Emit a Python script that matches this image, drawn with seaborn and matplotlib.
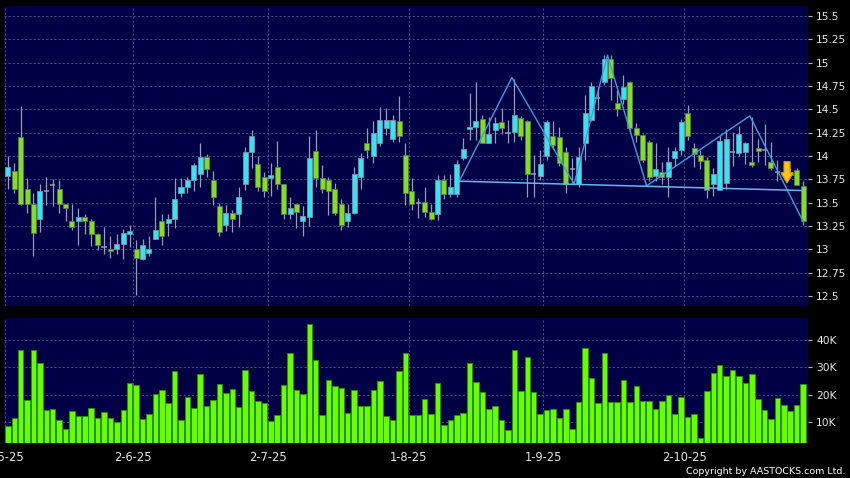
import numpy as np
import pandas as pd
import matplotlib
matplotlib.use("Agg")
import matplotlib.pyplot as plt
from matplotlib.patches import FancyArrow
from matplotlib.ticker import FuncFormatter
import seaborn as sns

# ==========================
# DATA
# ==========================
opens = [
    13.79, 13.84, 14.20, 13.65, 13.49, 13.32, 13.62, 13.69, 13.65, 13.49,
    13.30, 13.30, 13.35, 13.30, 13.16, 13.02, 13.00, 13.00, 13.06, 13.16,
    13.00, 12.90, 12.96, 13.11, 13.30, 13.28, 13.32, 13.60, 13.67, 13.74,
    13.81, 13.99, 13.74, 13.46, 13.26, 13.39, 13.38, 13.70, 14.04, 13.91,
    13.77, 13.76, 13.88, 13.70, 13.38, 13.49, 13.30, 13.35, 14.05, 13.76,
    13.74, 13.65, 13.49, 13.30, 13.39, 13.77, 14.14, 14.00, 14.14, 14.30,
    14.18, 14.37, 14.01, 13.62, 13.50, 13.51, 13.40, 13.38, 13.74, 13.59,
    13.59, 13.98, 14.29, 14.31, 14.40, 14.14, 14.28, 14.36, 14.25, 14.26,
    14.41, 14.37, 13.81, 13.79, 14.00, 14.21, 14.20, 14.04, 13.86, 13.70,
    14.14, 14.39, 14.62, 14.79, 15.04, 14.57, 14.61, 14.79, 14.30, 14.22,
    14.15, 13.79, 13.83, 13.78, 13.98, 14.06, 14.46, 14.09, 14.01, 13.96,
    13.70, 13.64, 13.71, 14.04, 14.03, 14.04, 13.94, 14.09, 14.06, 13.94,
    13.83, 13.83, 13.82, 13.85, 13.68,
]
closes = [
    13.88, 13.65, 13.49, 13.49, 13.18, 13.62, 13.62, 13.69, 13.49, 13.44,
    13.24, 13.35, 13.30, 13.16, 13.05, 13.02, 12.98, 13.06, 13.18, 13.20,
    12.91, 13.05, 13.00, 13.21, 13.14, 13.33, 13.54, 13.67, 13.74, 13.90,
    13.99, 13.86, 13.56, 13.19, 13.39, 13.33, 13.56, 14.04, 14.21, 13.67,
    13.62, 13.80, 13.70, 13.38, 13.44, 13.40, 13.36, 13.98, 13.76, 13.65,
    13.62, 13.39, 13.26, 13.39, 13.81, 13.98, 14.06, 14.25, 14.39, 14.39,
    14.39, 14.21, 13.60, 13.49, 13.50, 13.40, 13.33, 13.74, 13.59, 13.67,
    13.91, 14.08, 14.31, 14.38, 14.14, 14.24, 14.35, 14.30, 14.25, 14.44,
    14.21, 13.81, 13.81, 13.91, 14.36, 14.12, 13.92, 13.70, 13.86, 13.99,
    14.46, 14.75, 14.62, 15.04, 14.84, 14.50, 14.74, 14.30, 14.23, 13.96,
    13.78, 13.86, 13.78, 13.94, 14.05, 14.36, 14.21, 14.02, 13.95, 13.64,
    13.81, 14.16, 14.18, 14.04, 14.24, 14.14, 13.90, 14.05, 14.06, 13.87,
    13.83, 13.82, 13.80, 13.69, 13.30,
]
highs = [
    14.00, 13.92, 14.54, 13.76, 13.60, 13.70, 13.77, 13.75, 13.74, 13.49,
    13.49, 13.44, 13.38, 13.32, 13.18, 13.24, 13.14, 13.16, 13.22, 13.26,
    13.10, 13.11, 13.14, 13.56, 13.38, 13.38, 13.76, 13.76, 13.78, 13.93,
    14.14, 14.02, 13.84, 13.50, 13.48, 13.42, 13.67, 14.10, 14.28, 14.00,
    13.83, 13.92, 14.16, 13.70, 13.56, 13.49, 13.46, 14.21, 14.28, 13.90,
    13.78, 13.71, 13.54, 13.49, 13.88, 14.03, 14.30, 14.37, 14.53, 14.51,
    14.44, 14.64, 14.14, 13.76, 13.55, 13.67, 13.49, 13.80, 13.80, 13.81,
    13.96, 14.19, 14.67, 14.79, 14.44, 14.42, 14.42, 14.51, 14.39, 14.83,
    14.43, 14.39, 14.01, 14.06, 14.39, 14.37, 14.31, 14.10, 13.98, 14.10,
    14.65, 14.79, 14.74, 15.08, 15.08, 14.71, 14.87, 14.80, 14.35, 14.24,
    14.17, 14.14, 13.94, 14.10, 14.10, 14.40, 14.55, 14.14, 14.06, 13.99,
    13.87, 14.21, 14.29, 14.26, 14.32, 14.15, 14.42, 14.18, 14.34, 14.15,
    13.96, 13.90, 13.87, 13.87, 13.73,
]
lows = [
    13.65, 13.60, 13.47, 13.39, 12.93, 13.19, 13.47, 13.46, 13.39, 13.30,
    13.21, 13.05, 13.16, 13.04, 12.99, 12.95, 12.91, 12.95, 12.90, 13.03,
    12.51, 12.89, 12.93, 13.11, 13.05, 13.14, 13.23, 13.56, 13.60, 13.63,
    13.67, 13.77, 13.47, 13.14, 13.20, 13.19, 13.24, 13.64, 13.87, 13.62,
    13.56, 13.57, 13.65, 13.33, 13.32, 13.23, 13.14, 13.25, 13.67, 13.60,
    13.37, 13.37, 13.21, 13.24, 13.38, 13.65, 13.98, 13.92, 14.11, 14.23,
    14.15, 14.15, 13.48, 13.42, 13.34, 13.35, 13.31, 13.31, 13.54, 13.56,
    13.56, 13.96, 14.17, 14.17, 14.14, 14.14, 14.14, 14.24, 14.14, 14.15,
    14.17, 13.56, 13.56, 13.74, 13.96, 14.08, 13.89, 13.60, 13.71, 13.67,
    13.96, 14.37, 14.49, 14.76, 14.60, 14.43, 14.56, 14.26, 14.15, 13.94,
    13.73, 13.73, 13.70, 13.56, 13.89, 14.01, 14.17, 13.88, 13.86, 13.55,
    13.57, 13.64, 13.65, 13.89, 14.00, 13.91, 13.88, 13.94, 13.90, 13.85,
    13.73, 13.78, 13.76, 13.69, 13.26,
]
# volume in thousands
volume_k = [
    8.6, 11.4, 36.4, 18.0, 36.4, 31.5, 14.2, 14.7, 10.6, 7.3,
    14.0, 12.0, 12.0, 15.1, 11.4, 13.7, 11.5, 9.8, 14.3, 24.1,
    23.5, 11.1, 13.0, 20.1, 21.5, 16.8, 28.5, 10.6, 19.0, 15.1,
    27.5, 15.9, 17.9, 23.7, 20.4, 22.1, 15.6, 28.9, 21.4, 17.8,
    16.8, 10.4, 12.5, 23.5, 35.2, 21.5, 20.1, 45.9, 32.5, 12.5,
    25.3, 23.2, 22.3, 13.3, 21.6, 15.9, 15.9, 21.7, 25.1, 12.2,
    10.7, 28.5, 35.2, 12.6, 12.6, 18.5, 13.0, 24.1, 8.9, 10.7,
    12.5, 13.2, 31.4, 24.6, 20.9, 14.8, 15.8, 10.7, 7.0, 36.2,
    21.4, 33.8, 21.1, 13.0, 14.3, 14.8, 11.5, 14.7, 7.5, 17.4,
    37.0, 26.2, 16.9, 35.1, 17.2, 17.4, 25.3, 17.3, 23.3, 17.8,
    17.8, 14.8, 17.7, 20.0, 12.8, 19.1, 11.9, 12.8, 4.1, 21.4,
    28.0, 31.0, 26.7, 29.0, 26.8, 24.3, 27.4, 18.4, 14.4, 11.1,
    18.8, 16.0, 13.8, 16.2, 23.8,
]

# first trading day of each month (bar index)
month_idx = [-1, 19, 40, 62, 83, 105]
month_labels = ["2-5-25", "2-6-25", "2-7-25", "1-8-25", "1-9-25", "2-10-25"]

# head & shoulders pattern drawn on the chart
pattern_idx = [70.4, 78.6, 88.3, 93.5, 99.6, 115.7, 124.0]
pattern_px = [13.73, 14.84, 13.70, 15.08, 13.68, 14.43, 13.30]
neck_idx = [70.4, 124.0]
neck_px = [13.73, 13.63]

# breakdown arrow
arrow_idx = 121.5
arrow_top = 13.94
arrow_tip = 13.71

price_ticks = [12.5, 12.75, 13, 13.25, 13.5, 13.75, 14, 14.25, 14.5,
               14.75, 15, 15.25, 15.5]
vol_ticks = [10, 20, 30, 40]

n = len(closes)
assert len(opens) == len(highs) == len(lows) == len(volume_k) == n

df = pd.DataFrame({
    "day": np.arange(n),
    "open": opens, "high": highs, "low": lows, "close": closes,
    "vol": volume_k,
})

# ==========================
# STYLE
# ==========================
NAVY = "#000046"
GRID = "#5c5ca0"
CYAN = "#33e4f4"
GREEN = "#80e020"
WICK = "#9a9cb0"
TXT = "#e8e8e8"

sns.set_style("dark", {"axes.facecolor": NAVY, "figure.facecolor": "black"})
plt.rcParams["font.family"] = ["DejaVu Sans"]

fig = plt.figure(figsize=(8.5, 4.78), dpi=100, facecolor="black")
ax_p = fig.add_axes([4 / 850, 1 - 306 / 478, 804 / 850, 300 / 478])
ax_v = fig.add_axes([4 / 850, 1 - 443 / 478, 804 / 850, 125 / 478], sharex=ax_p)

# ==========================
# PRICE PANEL
# ==========================
up = df[df["close"] > df["open"]]
down = df[df["close"] < df["open"]]
flat = df[df["close"] == df["open"]]

ax_p.vlines(df["day"], df["low"], df["high"], color=WICK, lw=0.9, zorder=2)
ax_p.bar(up["day"], up["close"] - up["open"], bottom=up["open"], width=0.78,
         color=CYAN, edgecolor="#8090a0", linewidth=0.6, zorder=3)
ax_p.bar(down["day"], down["open"] - down["close"], bottom=down["close"],
         width=0.78, color=GREEN, edgecolor="#5c7a50", linewidth=0.6, zorder=3)
ax_p.hlines(flat["close"], flat["day"] - 0.4, flat["day"] + 0.4,
            color=WICK, lw=1.1, zorder=3)

sns.lineplot(x=pattern_idx, y=pattern_px, ax=ax_p, color="#3c9fe0",
             lw=1.0, sort=False, zorder=4)
sns.lineplot(x=neck_idx, y=neck_px, ax=ax_p, color="#62b8f0",
             lw=1.1, sort=False, zorder=4)

arrow = FancyArrow(arrow_idx, arrow_top, 0, arrow_tip - arrow_top,
                   width=0.95, head_width=1.9, head_length=0.11,
                   length_includes_head=True, facecolor="#ffc61a",
                   edgecolor="#e89400", linewidth=0.8, zorder=6)
ax_p.add_patch(arrow)

ax_p.set_ylim(12.393, 15.607)
ax_p.set_yticks(price_ticks)
ax_p.yaxis.set_major_formatter(FuncFormatter(lambda v, p: f"{v:g}"))

# ==========================
# VOLUME PANEL
# ==========================
sns.barplot(data=df, x="day", y="vol", native_scale=True, width=0.86,
            color="#66ff00", saturation=1, edgecolor="#2f8a00",
            linewidth=0.7, errorbar=None, ax=ax_v, zorder=3)
ax_v.set_ylim(2.2, 48.1)
ax_v.set_yticks(vol_ticks)
ax_v.yaxis.set_major_formatter(FuncFormatter(lambda v, p: f"{v:g}K"))

# ==========================
# AXES COSMETICS
# ==========================
grid_pos = [m + 0.5 for m in month_idx]
for ax in (ax_p, ax_v):
    ax.set_facecolor(NAVY)
    ax.set_xlabel("")
    ax.set_ylabel("")
    for s in ax.spines.values():
        s.set_visible(False)
    ax.set_axisbelow(True)
    ax.grid(True, color=GRID, linestyle=(0, (2.5, 2.5)), linewidth=0.6)
    ax.yaxis.tick_right()
    ax.tick_params(axis="y", right=True, left=False, labelright=True,
                   labelleft=False, length=3, width=0.8, pad=3,
                   color="#b8b8b8", labelcolor=TXT, labelsize=7.7)

ax_p.set_xticks(grid_pos)
ax_p.set_xlim(-0.6, n - 0.23)
ax_p.tick_params(axis="x", length=0, labelbottom=False)
ax_v.set_xticks(grid_pos)
ax_v.set_xticklabels(month_labels)
ax_v.tick_params(axis="x", length=3, width=0.8, pad=3, color="#b8b8b8",
                 labelcolor=TXT, labelsize=8.3)
ax_v.set_xlim(-0.6, n - 0.23)

fig.text(845 / 850, 1 - 471 / 478, "Copyright by AASTOCKS.com Ltd.",
         ha="right", va="center", color="white", fontsize=6.8)

fig.savefig("out.png", dpi=100, facecolor="black")
